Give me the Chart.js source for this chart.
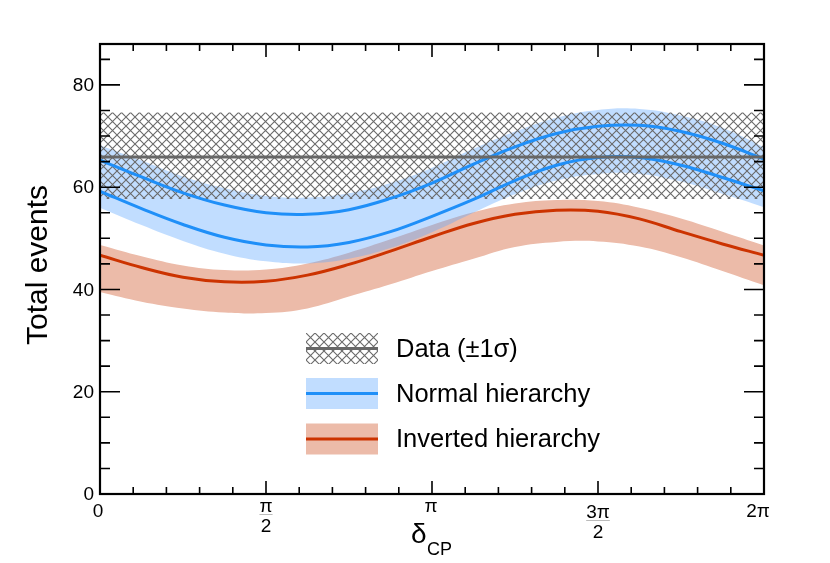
<!DOCTYPE html>
<html>
<head>
<meta charset="utf-8">
<script src="https://cdn.jsdelivr.net/npm/chart.js@4.4.0/dist/chart.umd.min.js"></script>
<style>
  html, body { margin: 0; padding: 0; background: #fff; }
  canvas { display: block; }
</style>
</head>
<body>
<canvas id="c" width="830" height="563"></canvas>
<script>
// delta_CP sample points (radians), every pi/8
var deltaCP = [0, 0.393, 0.785, 1.178, 1.571, 1.963, 2.356, 2.749, 3.142,
               3.534, 3.927, 4.320, 4.712, 5.105, 5.498, 5.890, 6.283];

// normal hierarchy: two curves and the band around them
var nhUpper  = [65.3, 62.0, 58.9, 56.5, 55.0, 54.7, 55.6, 57.8, 60.8, 64.5, 67.9, 70.5, 71.9, 72.1, 70.9, 68.6, 65.5];
var nhLower  = [59.2, 55.8, 52.7, 50.2, 48.7, 48.3, 49.2, 51.3, 54.3, 57.6, 61.3, 64.3, 65.8, 65.8, 64.3, 61.9, 59.3];
var nhBandHi = [68.2, 65.2, 62.1, 59.8, 58.3, 58.0, 58.8, 60.8, 63.8, 67.5, 70.9, 73.6, 75.1, 75.3, 74.0, 71.6, 67.8];
var nhBandLo = [56.0, 52.6, 49.5, 47.0, 45.5, 45.1, 46.0, 48.1, 51.2, 55.0, 58.6, 61.3, 62.6, 62.6, 61.1, 58.7, 56.1];

// inverted hierarchy: curve and band
var ihLine   = [46.7, 44.3, 42.4, 41.5, 41.6, 42.8, 44.9, 47.5, 50.3, 52.9, 54.7, 55.5, 55.3, 53.8, 51.3, 48.9, 46.7];
var ihBandHi = [48.7, 46.5, 44.7, 43.8, 43.9, 45.1, 47.2, 49.8, 52.6, 55.1, 56.8, 57.5, 57.3, 56.0, 53.9, 51.3, 48.6];
var ihBandLo = [39.5, 37.6, 36.3, 35.5, 35.4, 36.3, 38.6, 41.0, 43.6, 46.0, 48.3, 49.3, 49.4, 48.4, 46.3, 43.6, 40.8];

// data: observed total events and +-1 sigma
var dataX     = [0, 6.283];
var dataValue = [65.9, 65.9];
var dataHigh  = [74.6, 74.6];
var dataLow   = [57.7, 57.7];

// axes
var yTickLabels = [0, 20, 40, 60, 80];
var xTickNum = ['0', 'π', 'π', '3π', '2π'];
var xTickDen = ['', '2', '', '2', ''];
var legendLabels = ['Data (\u00B11\u03C3)', 'Normal hierarchy', 'Inverted hierarchy'];

var FONT = '"Liberation Sans", Arial, Helvetica, sans-serif';
var BLUE = '#1f8ff8';
var BLUE_BAND = 'rgba(100,170,255,0.4)';
var RED = '#cc3300';
var RED_BAND = '#ecbba9';
var GREY = '#676767';

var canvas = document.getElementById('c');
var ctx0 = canvas.getContext('2d');

// cross hatch for the data band
var tile = document.createElement('canvas');
tile.width = 9; tile.height = 9;
var tctx = tile.getContext('2d');
tctx.strokeStyle = '#6a6a6a';
tctx.lineWidth = 1.1;
tctx.beginPath();
tctx.moveTo(-1, -1); tctx.lineTo(10, 10);
tctx.moveTo(10, -1); tctx.lineTo(-1, 10);
tctx.stroke();
var hatch = ctx0.createPattern(tile, 'repeat');

function pts(xs, ys) {
    return xs.map(function(d, i) { return {x: d, y: ys[i]}; });
}

function band(ys, color, fill, order) {
    return {
        data: pts(deltaCP, ys), borderWidth: 0, borderColor: 'transparent',
        backgroundColor: color, fill: fill, pointRadius: 0,
        tension: 0.4, order: order
    };
}

function curve(xs, ys, color, order) {
    return {
        data: pts(xs, ys), borderWidth: 3, borderColor: color,
        fill: false, pointRadius: 0, tension: 0.4, order: order
    };
}

var dataHiSet = {data: pts(dataX, dataHigh), borderWidth: 0, backgroundColor: hatch, fill: '+1', pointRadius: 0, order: 5};
var dataLoSet = {data: pts(dataX, dataLow), borderWidth: 0, fill: false, pointRadius: 0, order: 4};

var frame = {
    id: 'frame',
    afterDraw: function(chart) {
        var ctx = chart.ctx, a = chart.chartArea;
        var x = chart.scales.x, y = chart.scales.y;
        ctx.save();

        // ticks pointing inwards on all four sides
        ctx.strokeStyle = '#000';
        ctx.lineWidth = 1.6;
        ctx.beginPath();
        for (var k = 0; k <= 20; k++) {
            var px = x.getPixelForValue(k * Math.PI / 10);
            var len = (k % 5 === 0) ? 13 : 7;
            ctx.moveTo(px, a.bottom); ctx.lineTo(px, a.bottom - len);
            ctx.moveTo(px, a.top); ctx.lineTo(px, a.top + len);
        }
        for (var v = 0; v <= 85; v += 5) {
            var py = y.getPixelForValue(v);
            var l2 = (v % 20 === 0) ? 20 : 10;
            ctx.moveTo(a.left, py); ctx.lineTo(a.left + l2, py);
            ctx.moveTo(a.right, py); ctx.lineTo(a.right - l2, py);
        }
        ctx.stroke();

        ctx.lineWidth = 2.2;
        ctx.strokeRect(a.left, a.top, a.right - a.left, a.bottom - a.top);

        // y tick labels
        ctx.fillStyle = '#000';
        ctx.font = '19px ' + FONT;
        ctx.textAlign = 'right';
        ctx.textBaseline = 'middle';
        yTickLabels.forEach(function(t) {
            ctx.fillText(String(t), a.left - 6, y.getPixelForValue(t) + 1);
        });

        // x tick labels, fractions for pi/2 and 3pi/2
        ctx.textAlign = 'center';
        ctx.textBaseline = 'alphabetic';
        xTickNum.forEach(function(num, i) {
            var px = x.getPixelForValue(i * Math.PI / 2);
            if (i === 4) px -= 5;
            if (i === 0) px -= 1;
            if (xTickDen[i]) {
                var nb = (i === 1) ? 512 : 518;
                ctx.fillText(num, px, nb);
                var w = ctx.measureText(num).width;
                ctx.fillStyle = '#bbbbbb';
                ctx.fillRect(px - w / 2, nb + 2, w, 1);
                ctx.fillStyle = '#000';
                ctx.fillText(xTickDen[i], px, nb + 20);
            } else {
                ctx.fillText(num, px - 1, num === 'π' ? 512 : 517);
            }
        });

        // axis titles
        ctx.font = '28px ' + FONT;
        ctx.textAlign = 'left';
        ctx.fillText('δ', 411, 543);
        ctx.font = '18px ' + FONT;
        ctx.fillText('CP', 427, 555);

        ctx.save();
        ctx.translate(47, 265);
        ctx.rotate(-Math.PI / 2);
        ctx.font = '30px ' + FONT;
        ctx.textAlign = 'center';
        ctx.fillText('Total events', 0, 0);
        ctx.restore();

        // legend
        var rows = [348.5, 393.5, 439];
        var fills = [hatch, BLUE_BAND, RED_BAND];
        var lines = [GREY, BLUE, RED];
        rows.forEach(function(cy, i) {
            ctx.fillStyle = '#fff';
            ctx.fillRect(306, cy - 15.5, 72, 31);
            ctx.fillStyle = fills[i];
            ctx.fillRect(306, cy - 15.5, 72, 31);
            ctx.strokeStyle = lines[i];
            ctx.lineWidth = 3;
            ctx.beginPath();
            ctx.moveTo(306, cy); ctx.lineTo(378, cy);
            ctx.stroke();
            ctx.fillStyle = '#000';
            ctx.font = '25.5px ' + FONT;
            ctx.textAlign = 'left';
            ctx.textBaseline = 'middle';
            ctx.fillText(legendLabels[i], 396, cy + 1);
        });

        ctx.restore();
    }
};

new Chart(ctx0, {
    type: 'line',
    data: {
        datasets: [
            band(ihBandHi, RED_BAND, '+1', 9),
            band(ihBandLo, 'transparent', false, 8),
            band(nhBandHi, BLUE_BAND, '+1', 7),
            band(nhBandLo, 'transparent', false, 6),
            dataHiSet,
            dataLoSet,
            curve(deltaCP, nhLower, BLUE, 3),
            curve(deltaCP, nhUpper, BLUE, 2),
            curve(deltaCP, ihLine, RED, 1),
            curve(dataX, dataValue, GREY, 0)
        ]
    },
    options: {
        responsive: false,
        animation: false,
        events: [],
        layout: { padding: { left: 100, right: 66, top: 44, bottom: 69 } },
        plugins: { legend: { display: false }, tooltip: { enabled: false }, title: { display: false } },
        scales: {
            x: { type: 'linear', min: 0, max: 2 * Math.PI, display: false },
            y: { type: 'linear', min: 0, max: 88, display: false }
        }
    },
    plugins: [frame]
});
</script>
</body>
</html>
